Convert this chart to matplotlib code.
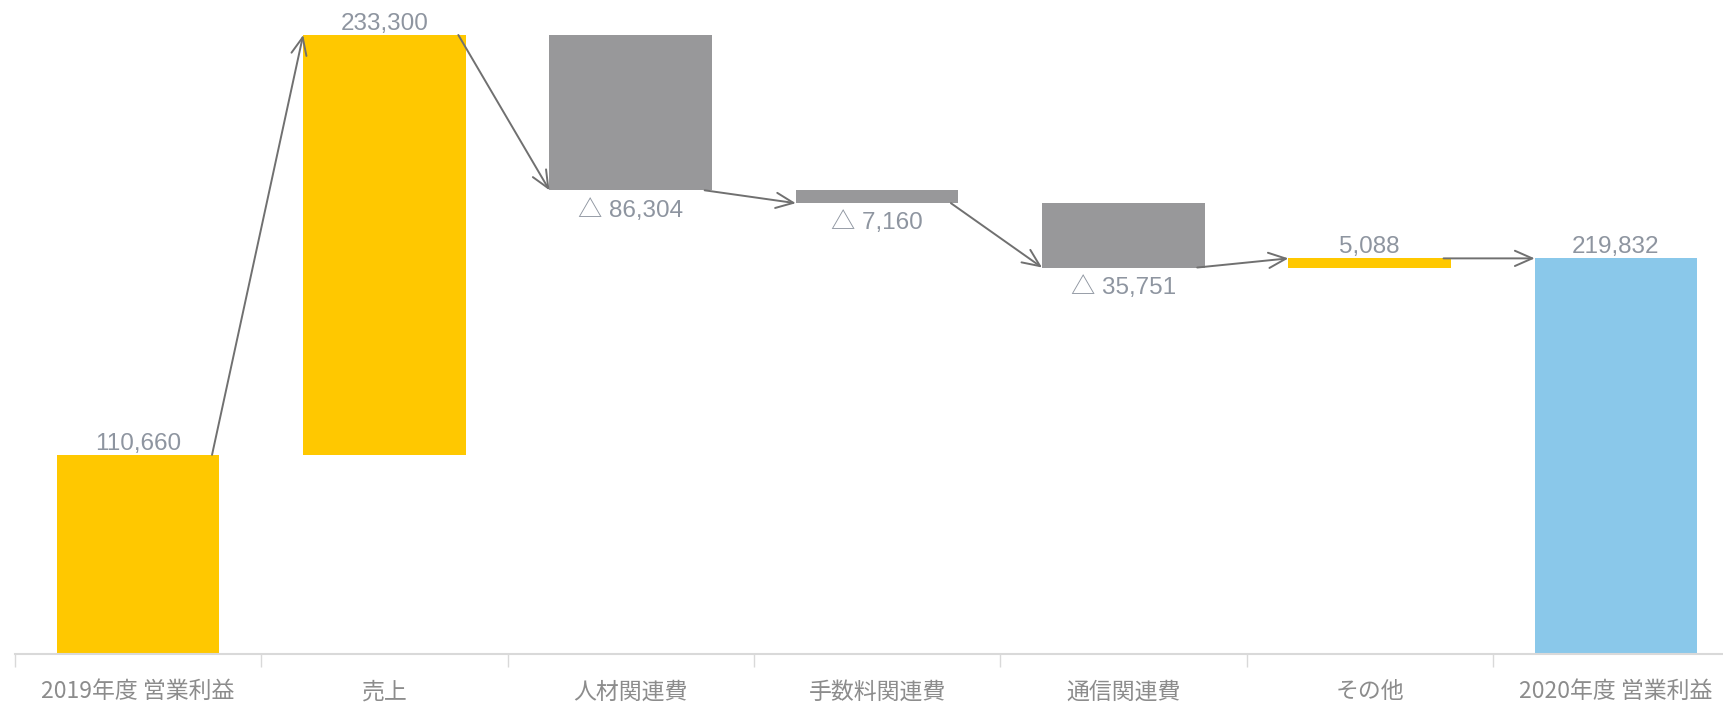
import matplotlib
matplotlib.use("Agg")
import matplotlib.pyplot as plt
import numpy as np

plt.rcParams['font.family'] = ['Noto Sans CJK JP', 'DejaVu Sans']

categories = ['2019年度 営業利益', '売上', '人材関連費', '手数料関連費', '通信関連費', 'その他', '2020年度 営業利益']
values = [110660, 233300, -86304, -7160, -35751, 5088, 219832]
is_total = [True, False, False, False, False, False, True]
colors = ['#ffc800', '#ffc800', '#98989a', '#98989a', '#98989a', '#ffc800', '#8ac8ea']

# bottoms / ends for the waterfall
bottoms = []
ends = []
level = 0
for v, tot in zip(values, is_total):
    if tot:
        bottoms.append(0)
        ends.append(v)
        level = v
    else:
        start = level
        level = level + v
        bottoms.append(min(start, level))
        ends.append(level)
heights = [abs(v) for v in values]

fig = plt.figure(figsize=(17.24, 7.06), dpi=100)
ax = fig.add_axes([15 / 1724, 52 / 706, 7 * 246.3 / 1724, 654 / 706])

x = np.arange(len(categories))
w = 0.66
ax.bar(x, heights, bottom=bottoms, width=w, color=colors, zorder=2)

lab_col = '#8e95a0'
num_font = ['Liberation Sans', 'Noto Sans CJK JP']
for i, v in enumerate(values):
    if v >= 0:
        ax.annotate(f'{v:,}', (x[i], bottoms[i] + heights[i]), xytext=(0, 0),
                    textcoords='offset points', ha='center', va='bottom',
                    fontsize=17.5, color=lab_col, family=num_font)
    else:
        ax.annotate(f'△ {-v:,}', (x[i], bottoms[i]), xytext=(0, -6),
                    textcoords='offset points', ha='center', va='top',
                    fontsize=17.5, color=lab_col, family=num_font)

# connector arrows
for i in range(len(values) - 1):
    ax.annotate('', xy=(x[i + 1] - w / 2, ends[i + 1]), xytext=(x[i] + w / 2 - 0.03, ends[i]),
                arrowprops=dict(arrowstyle='->,head_length=1.25,head_width=0.55',
                                color='#707070', lw=1.4, shrinkA=0, shrinkB=0), zorder=3)

ax.set_xlim(-0.5, 6.5)
ax.set_ylim(0, 363400)
ax.set_yticks([])
for s in ['top', 'right', 'left']:
    ax.spines[s].set_visible(False)
ax.spines['bottom'].set_color('#d9d9d9')
ax.spines['bottom'].set_linewidth(1.5)

ax.set_xticks(np.arange(-0.5, 7, 1), minor=False)
ax.set_xticklabels([])
ax.tick_params(axis='x', which='major', length=9, width=1, color='#d9d9d9')
ax.set_xticks(x, minor=True)
ax.set_xticklabels(categories, minor=True, fontsize=16.5, color='#8c8c8c')
ax.tick_params(axis='x', which='minor', length=0, pad=19)

fig.savefig('out.png', dpi=100)
